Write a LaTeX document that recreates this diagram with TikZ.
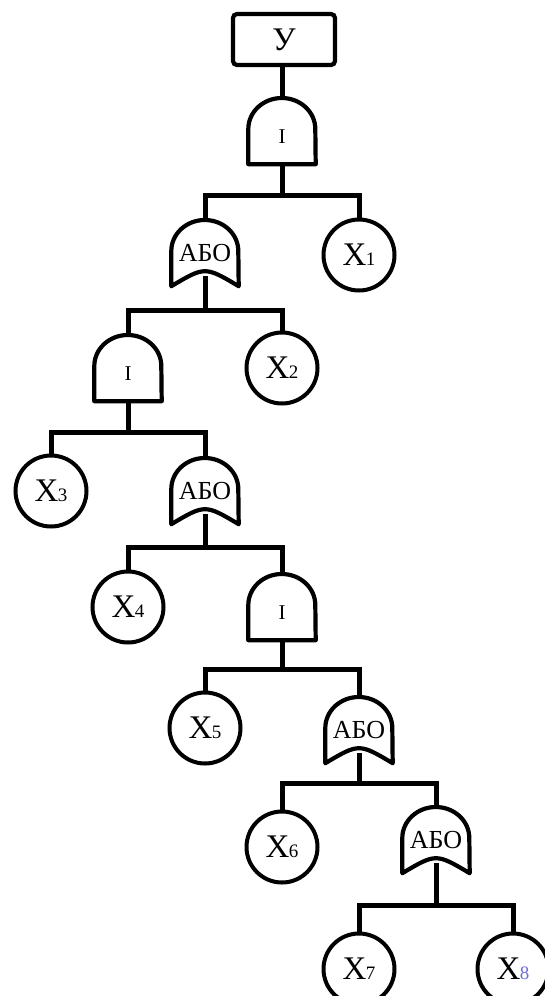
\documentclass[tikz,border=0pt]{standalone}
\usepackage{fontspec}
\setmainfont{Liberation Serif}
\definecolor{subblue}{RGB}{110,110,215}
\newcommand\evsub[1]{X\kern-0.8pt{\fontsize{19}{19}\selectfont #1}}
\newcommand\drawandgate[1]{\draw[gateline] (#1.south west) -- ([yshift=2pt]#1.west) arc[start angle=180, end angle=0, x radius=33.5pt, y radius=31pt] -- (#1.south east) -- cycle;}
\newcommand\draworgate[1]{\draw[gateline] (#1.south west) -- ([yshift=2pt]#1.west) arc[start angle=180, end angle=0, x radius=33.5pt, y radius=31pt] -- (#1.south east) .. controls ([yshift=20pt]#1.south) .. (#1.south west) -- cycle;}
\begin{document}
\begin{tikzpicture}[x=1pt,y=-1pt,
  conn/.style={line width=5pt, line join=miter},
  gateline/.style={line width=4.2pt, line join=round},
  gatebox/.style={rectangle, minimum width=67pt, minimum height=66pt, inner sep=0pt},
  andg/.style={gatebox, font=\fontsize{21}{21}\selectfont, text height=24pt, text depth=0pt},
  org/.style={gatebox, font=\fontsize{26}{26}\selectfont},
  evt/.style={circle, draw, line width=4pt, minimum size=71pt, inner sep=0pt, font=\fontsize{33}{33}\selectfont},
  topbox/.style={rectangle, draw, line width=4.2pt, rounded corners=4pt, minimum width=102pt, minimum height=51pt, font=\fontsize{33}{33}\selectfont}
]
\fill[white] (0,0) rectangle (544,996);
\useasboundingbox (0,0) rectangle (544,996);

% bar levels
\coordinate (b1) at (0,195);
\coordinate (b2) at (0,310);
\coordinate (b3) at (0,432);
\coordinate (b4) at (0,547);
\coordinate (b5) at (0,669);
\coordinate (b6) at (0,783);
\coordinate (b7) at (0,905);

% nodes
\node[topbox] (y) at (284,39.5) {У};
\node[andg] (a1) at (282,131) {І};
\node[org] (o1) at (205,253) {АБО};
\node[evt] (x1) at (359,255) {\evsub{1}};
\node[andg] (a2) at (128,368) {І};
\node[evt] (x2) at (282,368) {\evsub{2}};
\node[evt] (x3) at (51,491) {\evsub{3}};
\node[org] (o2) at (205,491) {АБО};
\node[evt] (x4) at (128,607) {\evsub{4}};
\node[andg] (a3) at (282,607) {І};
\node[evt] (x5) at (205,728) {\evsub{5}};
\node[org] (o3) at (359,730) {АБО};
\node[evt] (x6) at (282,847) {\evsub{6}};
\node[org] (o4) at (436,840) {АБО};
\node[evt] (x7) at (359,969) {\evsub{7}};
\node[evt] (x8) at (513,969) {X\kern-0.8pt{\fontsize{19}{19}\selectfont\color{subblue}8}};

% gate outlines
\drawandgate{a1}
\drawandgate{a2}
\drawandgate{a3}
\draworgate{o1}
\draworgate{o2}
\draworgate{o3}
\draworgate{o4}

% connectors
\draw[conn] (a1.north |- y.south) -- (a1.north);
\draw[conn] (a1.south) -- (a1.south |- b1);
\draw[conn] (o1.north) -- (o1.north |- b1) -- (x1.north |- b1) -- (x1.north);

\draw[conn] ([yshift=10pt]o1.south) -- (o1.south |- b2);
\draw[conn] (a2.north) -- (a2.north |- b2) -- (x2.north |- b2) -- (x2.north);

\draw[conn] (a2.south) -- (a2.south |- b3);
\draw[conn] (x3.north) -- (x3.north |- b3) -- (o2.north |- b3) -- (o2.north);

\draw[conn] ([yshift=10pt]o2.south) -- (o2.south |- b4);
\draw[conn] (x4.north) -- (x4.north |- b4) -- (a3.north |- b4) -- (a3.north);

\draw[conn] (a3.south) -- (a3.south |- b5);
\draw[conn] (x5.north) -- (x5.north |- b5) -- (o3.north |- b5) -- (o3.north);

\draw[conn] ([yshift=10pt]o3.south) -- (o3.south |- b6);
\draw[conn] (x6.north) -- (x6.north |- b6) -- (o4.north |- b6) -- (o4.north);

\draw[conn] ([yshift=10pt]o4.south) -- (o4.south |- b7);
\draw[conn] (x7.north) -- (x7.north |- b7) -- (x8.north |- b7) -- (x8.north);
\end{tikzpicture}
\end{document}
